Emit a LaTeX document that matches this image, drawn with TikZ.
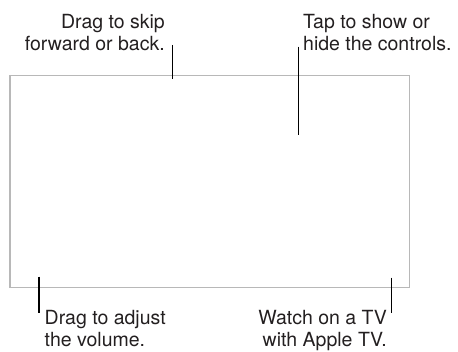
\documentclass[tikz,border=0pt]{standalone}
\usepackage{fontspec}
\setmainfont{TeX Gyre Heros}
\definecolor{frameGray}{RGB}{184, 184, 184}
\definecolor{textGray}{RGB}{35, 31, 32}
\usetikzlibrary{positioning}

\begin{document}
\begin{tikzpicture}[x=1pt, y=1pt,
    note/.style={font=\fontsize{19.5}{22.7}\selectfont, text=textGray, inner sep=0pt},
    callout/.style={line width=1.1pt, black}]
        \useasboundingbox (0,0) rectangle (458,351);
        % Screen
        \draw[frameGray, line width=1.3pt] (10,63.7) rectangle (409.5,275.3);

        % Top labels
        \node[note, anchor=base east, align=right] (skip) at (165,300) {Drag to skip\\forward or back.};
        \coordinate (skipA) at (172.7,306);
        \coordinate (skipB) at (172.7,271.7);
        \draw[callout] (skipA) -- (skipB);

        \node[note, anchor=base west, align=left] (controls) at (303,300) {Tap to show or\\hide the controls.};
        \coordinate (ctrlA) at (298.3,304.3);
        \coordinate (ctrlB) at (298.3,216);
        \draw[callout] (ctrlA) -- (ctrlB);

        % Bottom labels
        \node[note, anchor=base west, align=left] (volume) at (44.5,4.2) {Drag to adjust\\the volume.};
        \coordinate (volA) at (39,74.3);
        \coordinate (volB) at (39,37.7);
        \draw[callout] (volA) -- (volB);

        \node[note, anchor=base east, align=right] (tv) at (387,4.2) {Watch on a TV\\with Apple TV.};
        \coordinate (tvA) at (391.7,73.3);
        \coordinate (tvB) at (391.7,37.7);
        \draw[callout] (tvA) -- (tvB);
    \end{tikzpicture}
\end{document}
